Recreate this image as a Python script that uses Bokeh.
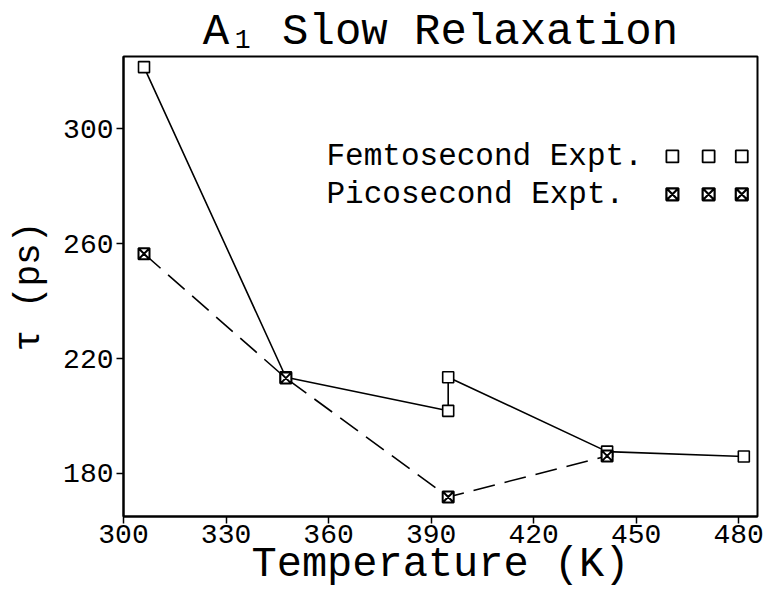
from bokeh.plotting import figure
from bokeh.models import Range1d, FixedTicker
from bokeh.embed import file_html
from bokeh.resources import INLINE
from bokeh.core.properties import value

# ---- data ----
fem_T = [306, 347.5, 395, 395, 441.5, 481.5]
fem_tau = [321.5, 213.5, 201.8, 213.5, 187.6, 185.9]
pico_T = [306, 347.5, 395, 441.5]
pico_tau = [256.5, 213.2, 171.8, 186.1]
x_ticks = [300, 330, 360, 390, 420, 450, 480]
y_ticks = [180, 220, 260, 300]
series_names = ["Femtosecond Expt.", "Picosecond Expt."]
x_title = "Temperature (K)"
y_title = "\u03c4 (ps)"

FONT = "Liberation Mono"
X0, X1, Y0, Y1 = 300, 485.5, 165, 325.2

p = figure(width=767, height=591, output_backend="svg", toolbar_location=None,
           x_range=Range1d(X0, X1), y_range=Range1d(Y0, Y1),
           min_border_left=123, min_border_right=10, min_border_top=56,
           min_border_bottom=73, title="A\u2081 Slow Relaxation")

p.title.text_font = FONT
p.title.text_font_size = "44px"
p.title.text_font_style = "normal"
p.title.align = "center"
p.title.standoff = 0
p.title.text_color = "black"

p.grid.visible = False
p.background_fill_color = "white"
p.border_fill_color = "white"
p.outline_line_color = "black"
p.outline_line_width = 2
p.outline_line_alpha = 1

for ax in (p.xaxis[0], p.yaxis[0]):
    ax.axis_line_width = 2
    ax.axis_line_color = "black"
    ax.major_tick_line_width = 1.5
    ax.major_tick_out = 7
    ax.major_tick_in = 0
    ax.minor_tick_line_color = None
    ax.major_label_text_font = FONT
    ax.major_label_text_font_size = "28px"
    ax.major_label_text_color = "black"
    ax.axis_label_text_font = FONT
    ax.axis_label_text_font_style = "normal"
    ax.axis_label_text_color = "black"

p.xaxis.ticker = FixedTicker(ticks=x_ticks)
p.yaxis.ticker = FixedTicker(ticks=y_ticks)
p.xaxis.axis_label = x_title
p.xaxis.axis_label_text_font_size = "42px"
p.xaxis.major_label_standoff = 1
p.xaxis.axis_label_standoff = -5
p.yaxis.axis_label = y_title
p.yaxis.axis_label_text_font_size = "36px"
p.yaxis.major_label_standoff = 3
p.yaxis.axis_label_standoff = 10

# ---- series ----
p.line(fem_T, fem_tau, line_color="black", line_width=1.6)
p.line(pico_T, pico_tau, line_color="black", line_width=1.6, line_dash="22 10")
p.scatter(fem_T, fem_tau, marker="square", size=11, fill_color="white",
          line_color="black", line_width=1.6)
p.scatter(pico_T, pico_tau, marker="square_x", size=11, fill_color="white",
          line_color="black", line_width=2)

# ---- legend (text on the left, three symbols on the right) ----
legend_text_x = 359.4
legend_row_y = [290.4, 277.2]
legend_marker_x = [460.6, 471.2, 480.9]
markers = ["square", "square_x"]
for name, ry, mk in zip(series_names, legend_row_y, markers):
    p.text(x=[legend_text_x], y=[ry], text=[name], text_font=value(FONT),
           text_font_size="31px", text_baseline="middle", text_align="left",
           text_color="black")
    p.scatter(legend_marker_x, [ry] * 3, marker=mk, size=12, fill_color="white",
              line_color="black", line_width=1.8 if mk == "square" else 2.2)

open("out.html", "w").write(file_html(p, INLINE))
